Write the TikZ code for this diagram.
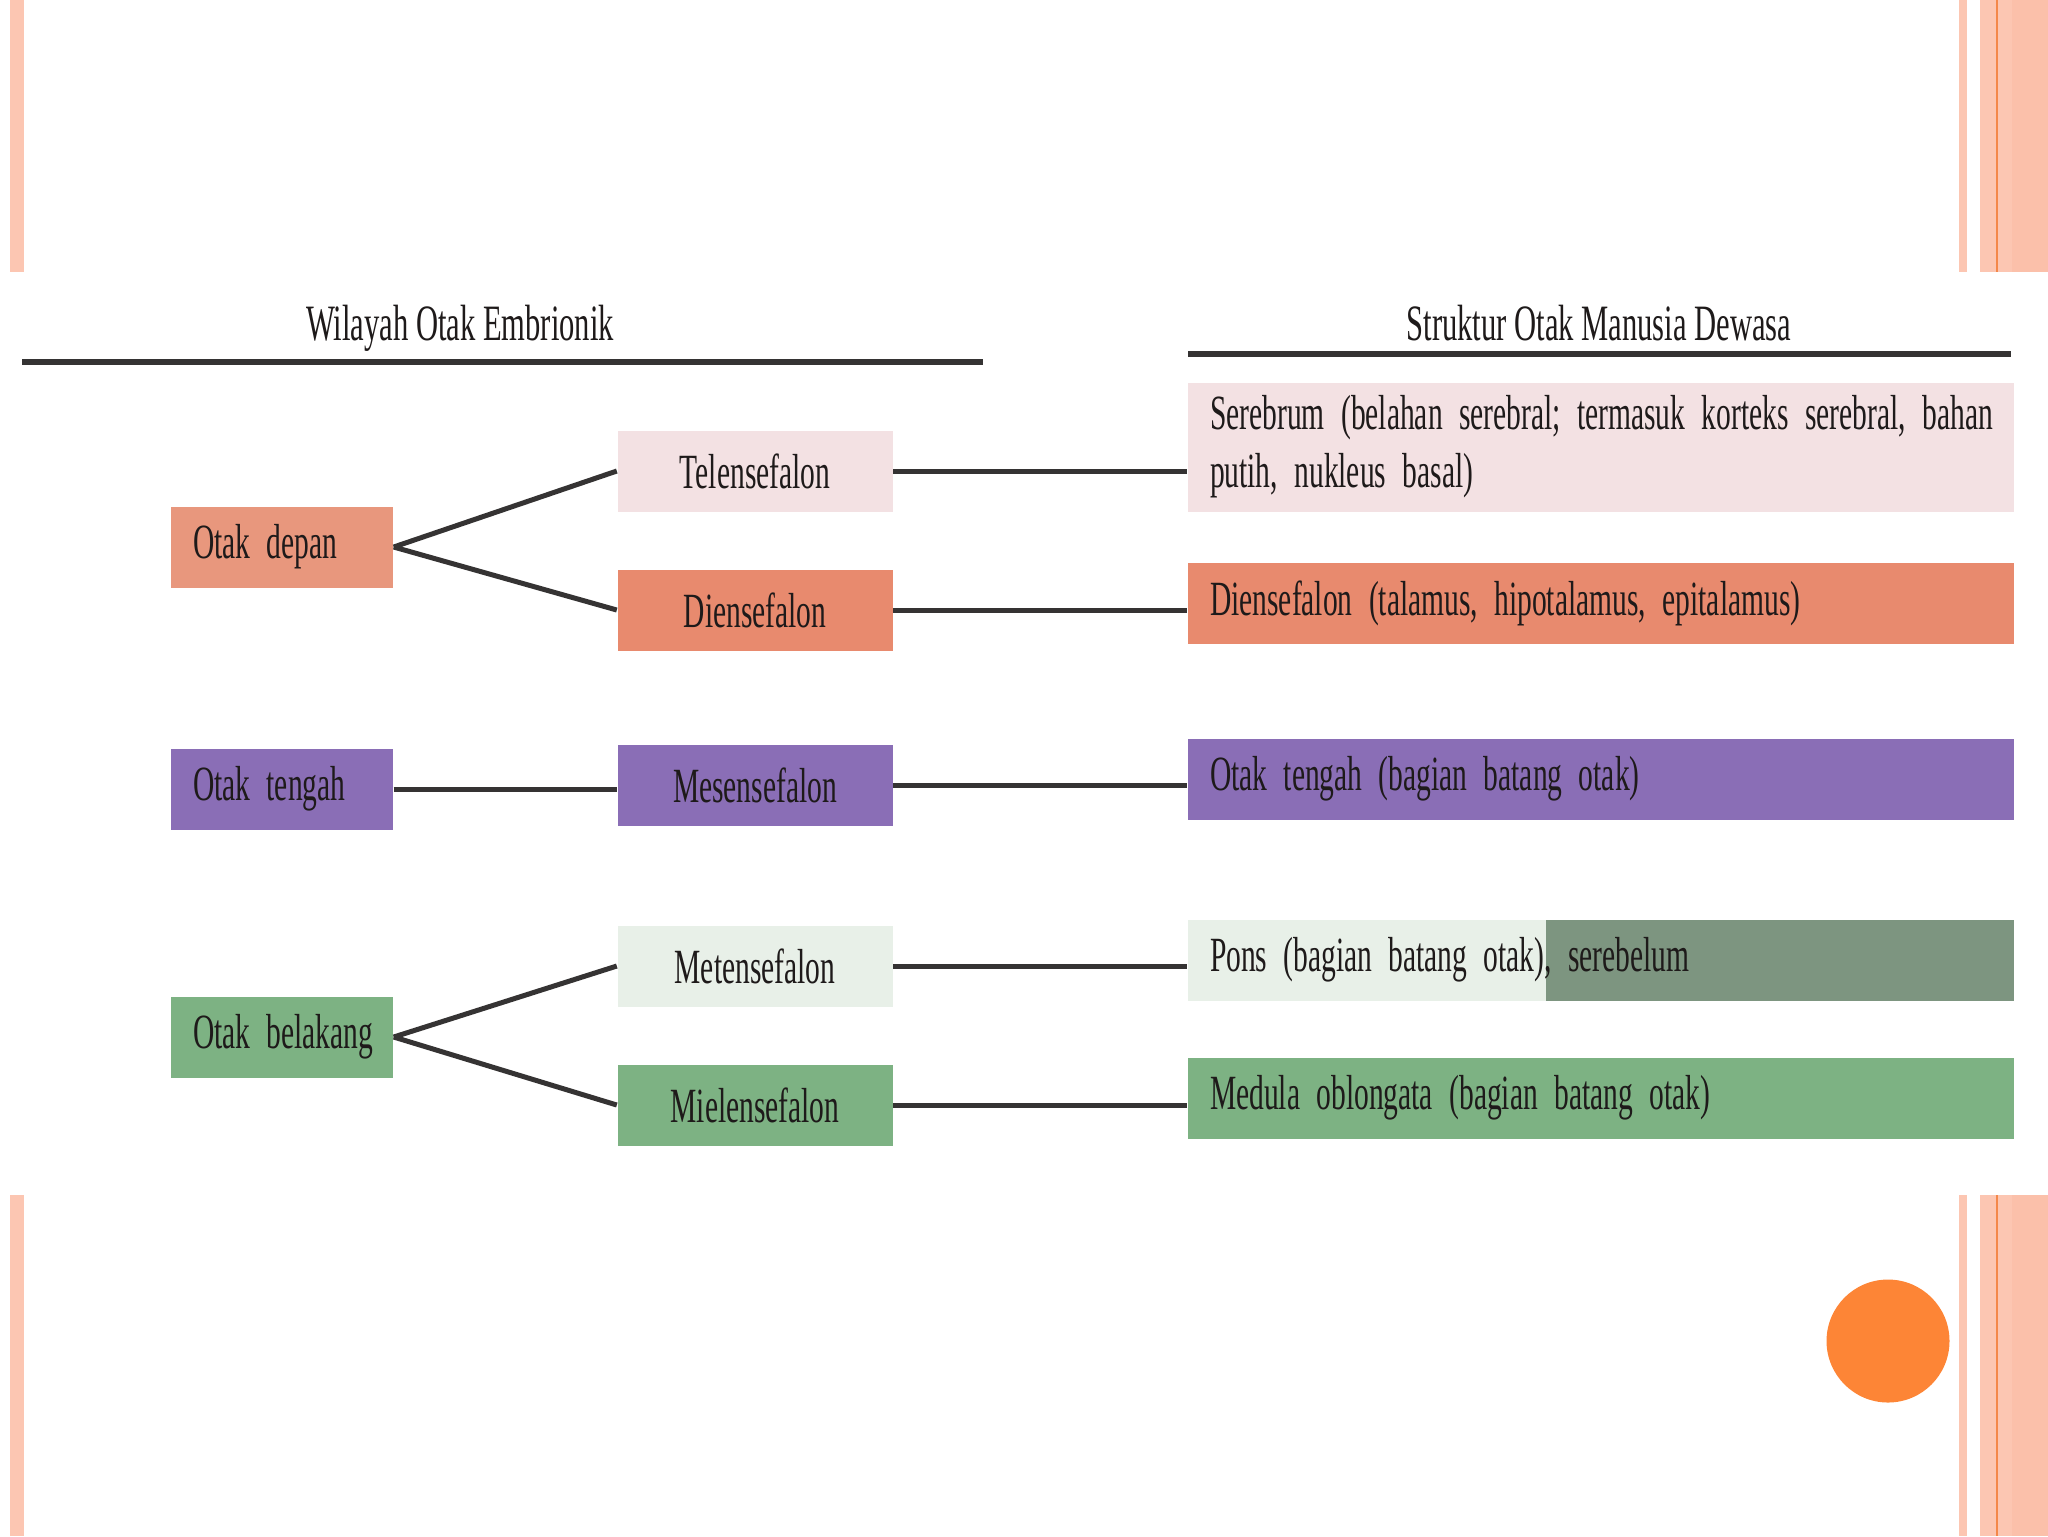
\documentclass[tikz,border=0pt]{standalone}
\usepackage{fontspec}
\setmainfont{Liberation Serif}[FakeStretch=0.6]
\usetikzlibrary{positioning}
\definecolor{stripe}{HTML}{FCC6B2}
\definecolor{stripedark}{HTML}{FBC0AA}
\definecolor{stripeline}{HTML}{F4884A}
\definecolor{dot}{HTML}{FD8536}
\definecolor{ink}{HTML}{1E1A1A}
\definecolor{linegray}{HTML}{353333}
\definecolor{salmonA}{HTML}{E8977D}
\definecolor{salmonB}{HTML}{E88A6E}
\definecolor{pinkA}{HTML}{F3E1E3}
\definecolor{purpleA}{HTML}{8A6EB6}
\definecolor{mintA}{HTML}{E8F0E8}
\definecolor{greyA}{HTML}{7D9580}
\definecolor{greenA}{HTML}{7DB283}
\tikzset{
  brainbox/.style={inner ysep=0pt, minimum height=8.1mm, text=ink,
    font=\fontsize{14}{16.5}\selectfont},
  leftbox/.style={brainbox, minimum width=22.2mm, inner xsep=2.2mm,
    text width=17.8mm, align=left},
  midbox/.style={brainbox, minimum width=27.5mm, align=center},
  rightbox/.style={brainbox, inner xsep=2.2mm, text width=78.2mm, align=left},
  link/.style={draw=linegray, line width=0.5mm},
  rule/.style={draw=linegray, line width=0.6mm},
  head/.style={text=ink, font=\fontsize{14.5}{16}\selectfont}
}
\begin{document}
\begin{tikzpicture}[x=0.1mm,y=-0.1mm]
\useasboundingbox (0,0) rectangle (2048,1536);
% page stripes
\fill[stripe] (10,0) rectangle (24,1536);
\fill[stripe] (1959,0) rectangle (1967,1536);
\fill[stripe] (1980,0) rectangle (2048,1536);
\fill[stripedark] (2012,0) rectangle (2048,1536);
\draw[stripeline, line width=0.2mm] (1997,0) -- (1997,1536);
\fill[white] (0,272) rectangle (2048,1195);
\fill[dot] (1888,1341) circle (6.15mm);
% headers
\node[head] (hleft) at (460,328) {Wilayah Otak Embrionik};
\node[head] (hright) at (1599,323) {Struktur Otak Manusia Dewasa};
\coordinate (l1) at (22,362);\coordinate (l2) at (983,362);
\coordinate (r1) at (1188,354);\coordinate (r2) at (2011,354);
\draw[rule] (l1) -- (l2);\draw[rule] (r1) -- (r2);
% embryonic regions
\node[leftbox, fill=salmonA] (depan) at (282,547) {Otak depan};
\node[leftbox, fill=purpleA] (tengah) at (282,789) {Otak tengah};
\node[leftbox, fill=greenA] (belakang) at (282,1037) {\mbox{Otak belakang}};
\node[midbox, fill=pinkA] (tele) at (755,471) {Telensefalon};
\node[midbox, fill=salmonB] (die) at (755,610) {Diensefalon};
\node[midbox, fill=purpleA] (mes) at (755,785) {Mesensefalon};
\node[midbox, fill=mintA] (met) at (755,966) {Metensefalon};
\node[midbox, fill=greenA] (mie) at (755,1105) {Mielensefalon};
% adult structures
\node[rightbox, fill=pinkA, minimum height=12.9mm] (sere) at (1601,447)
  {\mbox{Serebrum (belahan serebral; termasuk korteks serebral, bahan}\\putih, nukleus basal)};
\node[rightbox, fill=salmonB] (dieb) at (1601,603) {Diensefalon (talamus, hipotalamus, epitalamus)};
\node[rightbox, fill=purpleA] (tengb) at (1601,779) {Otak tengah (bagian batang otak)};
\node[rightbox, fill=mintA, path picture={\fill[greyA]
  ([xshift=-46.8mm]path picture bounding box.south east) rectangle
  (path picture bounding box.north east);}] (pons) at (1601,960)
  {Pons (bagian batang otak), serebelum};
\node[rightbox, fill=greenA] (medu) at (1601,1098) {Medula oblongata (bagian batang otak)};
% links
\draw[link] (depan.east) -- (tele.west);\draw[link] (depan.east) -- (die.west);
\draw[link] (tengah.east) -- (tengah.east -| mes.west);
\draw[link] (belakang.east) -- (met.west);\draw[link] (belakang.east) -- (mie.west);
\draw[link] (tele.east) -- (tele.east -| sere.west);
\draw[link] (die.east) -- (die.east -| dieb.west);
\draw[link] (mes.east) -- (mes.east -| tengb.west);
\draw[link] (met.east) -- (met.east -| pons.west);
\draw[link] (mie.east) -- (mie.east -| medu.west);
\end{tikzpicture}
\end{document}
